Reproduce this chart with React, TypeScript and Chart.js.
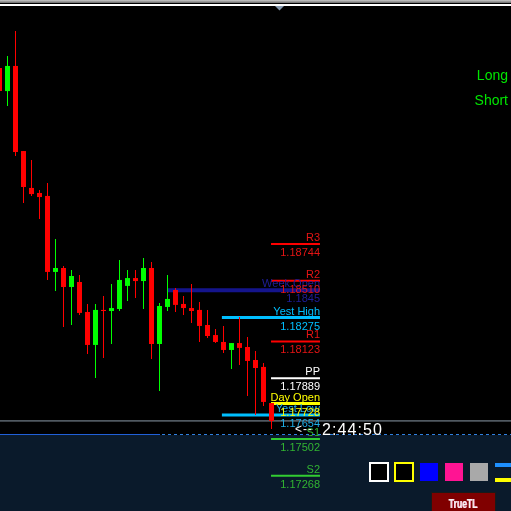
import React, { useEffect, useRef } from "react";
import { Chart, registerables } from "chart.js";

Chart.register(...registerables);

// ---- candle data (EURUSD-like, oldest -> newest) ----
const opens = [
  1.19865, 1.19718, 1.19878, 1.19336, 1.19101, 1.19069, 1.1905, 1.18566, 1.18591, 1.1847,
  1.18502, 1.18311, 1.18101, 1.18324, 1.18317, 1.1833, 1.18477, 1.18527, 1.18508, 1.18591,
  1.18107, 1.18343, 1.18451, 1.18362, 1.18336, 1.18324, 1.18228, 1.18164, 1.1812, 1.18069,
  1.18113, 1.18088, 1.18005, 1.17961, 1.17731,
];
const highs = [
  1.19878, 1.19941, 1.20101, 1.19336, 1.19279, 1.19088, 1.19133, 1.18776, 1.18604, 1.18578,
  1.18547, 1.18362, 1.18362, 1.18413, 1.18489, 1.18642, 1.18578, 1.18578, 1.18655, 1.18629,
  1.18368, 1.18547, 1.18464, 1.18413, 1.18489, 1.18375, 1.18324, 1.18203, 1.18222, 1.18113,
  1.18279, 1.18152, 1.18063, 1.17986, 1.17731,
];
const lows = [
  1.19693, 1.19623, 1.19304, 1.19005, 1.1905, 1.18903, 1.18515, 1.18445, 1.18215, 1.18228,
  1.18292, 1.18043, 1.17891, 1.18018, 1.18107, 1.18317, 1.18381, 1.184, 1.1833, 1.18012,
  1.17808, 1.18317, 1.18311, 1.18292, 1.18241, 1.1812, 1.18145, 1.18113, 1.1805, 1.17948,
  1.17973, 1.17776, 1.17655, 1.17712, 1.17566,
];
const closes = [
  1.19718, 1.19878, 1.1933, 1.19107, 1.19062, 1.19043, 1.18566, 1.18591, 1.1847, 1.1854,
  1.18305, 1.18101, 1.18324, 1.18317, 1.18336, 1.18515, 1.18527, 1.18508, 1.18591, 1.18107,
  1.18349, 1.18394, 1.18356, 1.18336, 1.18317, 1.18222, 1.18158, 1.1812, 1.18069, 1.18113,
  1.18082, 1.17999, 1.17954, 1.17738, 1.17617,
];

// ---- pivot levels ----
const pivotNames = ["R3", "R2", "R1", "PP", "S1", "S2"];
const pivotValues = [1.18744, 1.1851, 1.18123, 1.17889, 1.17502, 1.17268];
const pivotLineColors = ["#ff0000", "#ff0000", "#ff0000", "#ffffff", "#32cd32", "#32cd32"];
const pivotTextColors = ["#e61414", "#e61414", "#e61414", "#ffffff", "#32b432", "#32b432"];

// ---- other levels ----
const extraNames = ["Week Open", "Yest High", "Yest Low", "Day Open"];
const extraValues = [1.1845, 1.18275, 1.17654, 1.17728];
const extraDecimals = [4, 5, 5, 5];
const extraLineColors = ["#14148c", "#00bfff", "#00bfff", "#ffff00"];
const extraTextColors = ["#1e1e9a", "#00bfff", "#1eaee8", "#ffff00"];
const extraStarts = [20.94, 27.8, 27.8, 33.94];
const extraWidths = [4, 3, 3, 3];

const PIVOT_START = 33.94;
const LEVEL_END = 40.06;
const X_MIN = 0.0625;
const X_MAX = 63.9375;
const Y_MIN = 1.170433;
const Y_MAX = 1.202981;

const timerText = "2:44:50";
const sideLabels = ["Long", "Short"];
const buttonText = "TrueTL";

const FONT = "'Liberation Sans', Arial, sans-serif";
const NAVY = "#0a1a2b";

export default function App() {
  const ref = useRef<HTMLCanvasElement>(null);

  useEffect(() => {
    const canvas = ref.current!;
    const idx = opens.map((_, i) => i);
    const colors = idx.map((i) => (closes[i] >= opens[i] ? "#00ff00" : "#ff0000"));
    const lastClose = closes[closes.length - 1];

    const lineDs = (value: number, start: number, end: number, color: string, width: number, order: number) => ({
      type: "line" as const,
      data: [
        { x: start, y: value },
        { x: end, y: value },
      ],
      borderColor: color,
      borderWidth: width,
      pointRadius: 0,
      tension: 0,
      borderCapStyle: "butt" as const,
      order,
    });

    const overlay = {
      id: "overlay",
      beforeDraw(chart: any) {
        const ctx = chart.ctx as CanvasRenderingContext2D;
        const w = chart.width;
        const h = chart.height;
        ctx.save();
        ctx.fillStyle = "#000000";
        ctx.fillRect(0, 0, w, h);
        ctx.fillStyle = NAVY;
        ctx.fillRect(0, 435, w, h - 435);
        ctx.restore();
      },
      afterDatasetsDraw(chart: any) {
        const ctx = chart.ctx as CanvasRenderingContext2D;
        const xs = chart.scales.x;
        const ys = chart.scales.y;
        const w = chart.width;
        const xr = Math.round(xs.getPixelForValue(LEVEL_END));
        ctx.save();
        ctx.textAlign = "right";
        ctx.textBaseline = "alphabetic";
        ctx.font = `11px ${FONT}`;

        const drawLevel = (name: string, v: number, dec: number, color: string) => {
          const py = Math.round(ys.getPixelForValue(v));
          ctx.fillStyle = color;
          ctx.fillText(name, xr, py - 3);
          ctx.fillText(v.toFixed(dec), xr, py + 12);
        };
        // weekly, yesterday high / low first
        drawLevel(extraNames[0], extraValues[0], extraDecimals[0], extraTextColors[0]);
        drawLevel(extraNames[1], extraValues[1], extraDecimals[1], extraTextColors[1]);
        drawLevel(extraNames[2], extraValues[2], extraDecimals[2], extraTextColors[2]);
        pivotNames.forEach((n, i) => drawLevel(n, pivotValues[i], 5, pivotTextColors[i]));
        drawLevel(extraNames[3], extraValues[3], extraDecimals[3], extraTextColors[3]);

        // separator of indicator sub-window
        ctx.lineWidth = 1;
        ctx.strokeStyle = "#2060d8";
        ctx.beginPath();
        ctx.moveTo(0, 434.5);
        ctx.lineTo(160, 434.5);
        ctx.stroke();
        ctx.strokeStyle = "#2f80e0";
        ctx.setLineDash([3, 3]);
        ctx.beginPath();
        ctx.moveTo(162, 434.5);
        ctx.lineTo(w, 434.5);
        ctx.stroke();
        ctx.setLineDash([]);

        // candle timer
        ctx.fillStyle = "#ffffff";
        ctx.textAlign = "left";
        ctx.font = `12px ${FONT}`;
        (ctx as any).letterSpacing = "1px";
        ctx.fillText("<--", 295, 433);
        ctx.font = `16px ${FONT}`;
        (ctx as any).letterSpacing = "1.1px";
        ctx.fillText(timerText, 322, 435);
        (ctx as any).letterSpacing = "0px";

        // Long / Short
        ctx.textAlign = "right";
        ctx.font = `14px ${FONT}`;
        ctx.fillStyle = "#00e600";
        ctx.fillText(sideLabels[0], 508, 80);
        ctx.fillText(sideLabels[1], 508, 105);

        // top bar
        const g = ctx.createLinearGradient(0, 0, 0, 3);
        g.addColorStop(0, "#c8c8c8");
        g.addColorStop(1, "#6a6a6a");
        ctx.fillStyle = g;
        ctx.fillRect(0, 0, w, 3);
        ctx.fillStyle = "#ffffff";
        ctx.fillRect(0, 4, w, 2);
        ctx.fillStyle = "#8497ad";
        ctx.beginPath();
        ctx.moveTo(275, 6);
        ctx.lineTo(284, 6);
        ctx.lineTo(279.5, 10.5);
        ctx.closePath();
        ctx.fill();

        // colour boxes
        ctx.fillStyle = "#000000";
        ctx.fillRect(370, 463, 18, 18);
        ctx.strokeStyle = "#ffffff";
        ctx.lineWidth = 2;
        ctx.strokeRect(370, 463, 18, 18);
        ctx.fillStyle = "#000000";
        ctx.fillRect(395, 463, 18, 18);
        ctx.strokeStyle = "#ffff00";
        ctx.strokeRect(395, 463, 18, 18);
        ctx.fillStyle = "#0000ff";
        ctx.fillRect(420, 463, 18, 18);
        ctx.fillStyle = "#ff1493";
        ctx.fillRect(445, 463, 18, 18);
        ctx.fillStyle = "#a9a9a9";
        ctx.fillRect(470, 463, 18, 18);
        ctx.fillStyle = "#1e90ff";
        ctx.fillRect(495, 463, 16, 4);
        ctx.fillStyle = "#ffff00";
        ctx.fillRect(495, 478, 16, 4);

        // button
        ctx.fillStyle = "#800000";
        ctx.fillRect(431, 492, 65, 20);
        ctx.strokeStyle = "#1a1a1a";
        ctx.lineWidth = 1;
        ctx.strokeRect(431.5, 492.5, 64, 20);
        ctx.save();
        ctx.translate(463, 508);
        ctx.scale(0.72, 1);
        ctx.textAlign = "center";
        ctx.font = `bold 12px ${FONT}`;
        ctx.fillStyle = "#ff9ec8";
        ctx.fillText(buttonText, 1, 0);
        ctx.fillStyle = "#f4f4f4";
        ctx.fillText(buttonText, 0, 0);
        ctx.restore();

        ctx.restore();
      },
    };

    const datasets: any[] = [
      {
        type: "bar",
        data: idx.map((i) => ({ x: i, y: [lows[i], highs[i]] })),
        backgroundColor: colors,
        barThickness: 1,
        grouped: false,
        borderWidth: 0,
        inflateAmount: 0,
        order: 1,
      },
      {
        type: "bar",
        data: idx.map((i) => ({ x: i, y: [opens[i], closes[i]] })),
        backgroundColor: colors,
        barThickness: 5,
        grouped: false,
        borderWidth: 0,
        inflateAmount: 0,
        order: 0,
      },
      lineDs(lastClose, X_MIN, X_MAX, "#8c9aa8", 1, 5),
      lineDs(extraValues[0], extraStarts[0], LEVEL_END, extraLineColors[0], extraWidths[0], 4),
      lineDs(extraValues[1], extraStarts[1], LEVEL_END, extraLineColors[1], extraWidths[1], 3),
      lineDs(extraValues[2], extraStarts[2], LEVEL_END, extraLineColors[2], extraWidths[2], 3),
      ...pivotValues.map((v, i) => lineDs(v, PIVOT_START, LEVEL_END, pivotLineColors[i], 2, 3)),
      lineDs(extraValues[3], extraStarts[3], LEVEL_END, extraLineColors[3], extraWidths[3], 2),
    ];

    const chart = new Chart(canvas, {
      type: "bar",
      data: { datasets },
      options: {
        animation: false,
        responsive: false,
        devicePixelRatio: 1,
        events: [],
        layout: { padding: 0 },
        plugins: { legend: { display: false }, tooltip: { enabled: false } },
        scales: {
          x: {
            type: "linear",
            min: X_MIN,
            max: X_MAX,
            offset: false,
            bounds: "data",
            display: false,
          },
          y: {
            type: "linear",
            min: Y_MIN,
            max: Y_MAX,
            bounds: "data",
            beginAtZero: false,
            display: false,
          },
        },
      } as any,
      plugins: [overlay],
    });
    return () => chart.destroy();
  }, []);

  return (
    <div style={{ position: "fixed", left: 0, top: 0, width: 511, height: 511, background: "#000" }}>
      <canvas ref={ref} width={511} height={511} style={{ display: "block" }} />
    </div>
  );
}
